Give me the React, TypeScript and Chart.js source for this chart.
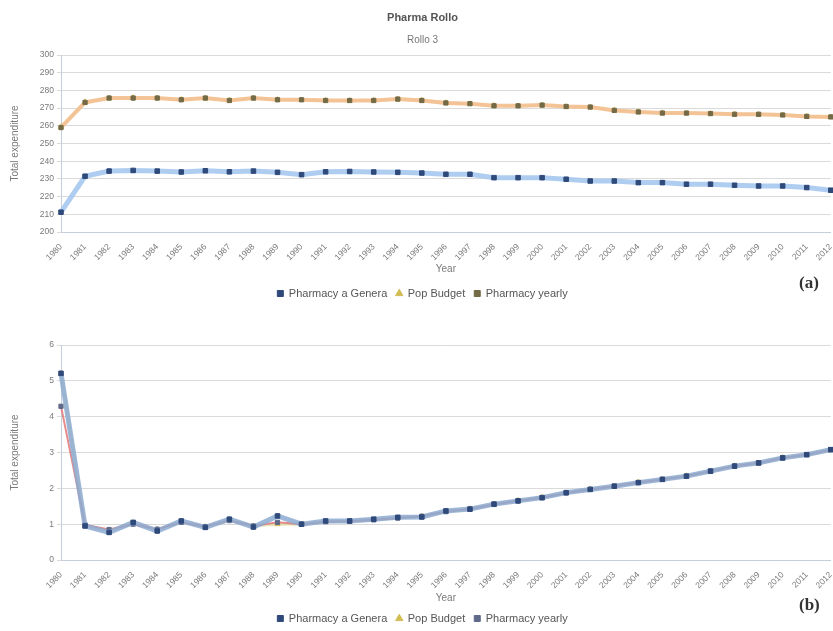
import React, { useEffect, useRef } from "react";
import { Chart, registerables } from "chart.js";

Chart.register(...registerables);

// ---------- data ----------
const years = [
  "1980", "1981", "1982", "1983", "1984", "1985", "1986", "1987", "1988", "1989", "1990",
  "1991", "1992", "1993", "1994", "1995", "1996", "1997", "1998", "1999", "2000",
  "2001", "2002", "2003", "2004", "2005", "2006", "2007", "2008", "2009", "2010",
  "2011", "2012",
];

const seriesNames = ["Pharmacy a Genera", "Pop Budget", "Pharmacy yearly"];

// chart (a)
const generaA = [
  211.2, 231.5, 234.4, 234.8, 234.4, 233.9, 234.6, 234.0, 234.4, 233.7, 232.4,
  234.0, 234.2, 233.9, 233.7, 233.3, 232.6, 232.6, 230.7, 230.7, 230.7,
  229.8, 228.8, 228.8, 227.9, 227.9, 227.0, 227.0, 226.4, 226.0, 226.0,
  225.1, 223.6,
];
const budgetA = [
  259.4, 273.5, 275.5, 275.9, 275.6, 274.9, 275.5, 274.5, 275.6, 274.8, 274.6,
  274.4, 274.2, 274.4, 275.0, 274.4, 273.0, 272.4, 271.4, 271.2, 271.6,
  270.8, 270.5, 268.9, 267.9, 267.3, 267.1, 266.9, 266.6, 266.4, 266.1,
  265.4, 265.0,
];
const yearlyA = [
  259.0, 273.2, 275.7, 275.7, 275.7, 274.7, 275.7, 274.3, 275.7, 274.7, 274.7,
  274.3, 274.3, 274.3, 275.1, 274.3, 272.9, 272.5, 271.3, 271.3, 271.7,
  270.9, 270.6, 268.7, 267.8, 267.2, 267.2, 266.9, 266.5, 266.5, 266.1,
  265.3, 265.0,
];
const yTicksA = { min: 200, max: 300, step: 10 };

// chart (b)
const generaB = [
  5.21, 0.95, 0.77, 1.05, 0.81, 1.09, 0.91, 1.14, 0.92, 1.23, 1.0,
  1.09, 1.09, 1.14, 1.19, 1.2, 1.37, 1.42, 1.56, 1.65, 1.74,
  1.88, 1.97, 2.06, 2.16, 2.25, 2.34, 2.48, 2.62, 2.71, 2.85,
  2.94, 3.08,
];
const budgetB = [
  5.2, 0.97, 0.82, 1.02, 0.85, 1.06, 0.93, 1.1, 0.95, 1.0, 1.0,
  1.07, 1.08, 1.12, 1.17, 1.22, 1.35, 1.43, 1.55, 1.66, 1.75,
  1.87, 1.98, 2.05, 2.17, 2.24, 2.35, 2.47, 2.63, 2.7, 2.86,
  2.93, 3.07,
];
const yearlyB = [
  4.29, 0.98, 0.85, 1.0, 0.86, 1.05, 0.93, 1.1, 0.95, 1.05, 1.0,
  1.07, 1.08, 1.12, 1.17, 1.22, 1.35, 1.42, 1.55, 1.65, 1.74,
  1.87, 1.97, 2.06, 2.16, 2.25, 2.34, 2.48, 2.62, 2.71, 2.85,
  2.94, 3.08,
];
const yTicksB = { min: 0, max: 6, step: 1 };

const titleText = "Pharma Rollo";
const subtitleText = "Rollo 3";
const xTitle = "Year";
const yTitle = "Total expenditure";

// ---------- helpers ----------
const FONT = "'Liberation Sans', Arial, sans-serif";
const TICK = "#7a7a7a";
const CW = 840;

function datasets(genera: number[], budget: number[], yearly: number[], isB: boolean) {
  return [
    {
      label: seriesNames[0],
      data: genera,
      order: 0,
      borderColor: isB ? "rgba(140,170,210,0.85)" : "rgba(165,200,238,0.9)",
      borderWidth: 5,
      pointStyle: "rect" as const,
      pointRadius: 3.2,
      pointBorderWidth: 1,
      pointBackgroundColor: "#2f4a7a",
      pointBorderColor: "#2f4a7a",
      tension: 0,
    },
    {
      label: seriesNames[1],
      data: budget,
      order: 2,
      borderColor: isB ? "rgba(225,215,150,0.6)" : "rgba(240,218,160,0.8)",
      borderWidth: 3,
      pointStyle: "triangle" as const,
      pointRadius: 3,
      pointBorderWidth: 1,
      pointBackgroundColor: "#d2bd55",
      pointBorderColor: "#d2bd55",
      tension: 0,
    },
    {
      label: seriesNames[2],
      data: yearly,
      order: 1,
      borderColor: isB ? "rgba(225,120,120,0.85)" : "rgba(243,192,145,0.9)",
      borderWidth: isB ? 2 : 4,
      pointStyle: "rect" as const,
      pointRadius: 3,
      pointBorderWidth: 1,
      pointBackgroundColor: isB ? "#5f6a8a" : "#746a46",
      pointBorderColor: isB ? "#5f6a8a" : "#746a46",
      tension: 0,
    },
  ];
}

function options(
  ticks: { min: number; max: number; step: number },
  withTitle: boolean,
  padTop: number,
  xHeight: number,
  xTitleBottom: number
): any {
  return {
    responsive: false,
    animation: false,
    devicePixelRatio: 1,
    layout: { padding: { left: 8, right: 3, top: padTop, bottom: 6 } },
    plugins: {
      title: {
        display: withTitle,
        text: titleText,
        color: "#555",
        font: { family: FONT, size: 11, weight: "bold" },
        padding: { top: 11.4, bottom: 5 },
      },
      subtitle: {
        display: withTitle,
        text: subtitleText,
        color: "#777",
        font: { family: FONT, size: 10 },
        padding: { top: 4.4, bottom: 9 },
      },
      legend: {
        position: "bottom",
        labels: {
          color: "#555",
          font: { family: FONT, size: 11 },
          usePointStyle: true,
          boxWidth: 6,
          boxHeight: 6,
          padding: 9,
          sort: (x: any, y: any) => x.datasetIndex - y.datasetIndex,
        },
      },
      tooltip: { enabled: false },
    },
    scales: {
      x: {
        offset: false,
        grid: { display: false },
        border: { color: "#c5cedb" },
        ticks: {
          color: TICK,
          font: { family: FONT, size: 8.5 },
          minRotation: 45,
          maxRotation: 45,
          autoSkip: false,
          padding: 2,
        },
        title: {
          display: true,
          text: xTitle,
          color: TICK,
          font: { family: FONT, size: 10 },
          padding: { top: 0, bottom: xTitleBottom },
        },
        afterFit: (s: any) => {
          s.height = xHeight;
        },
      },
      y: {
        min: ticks.min,
        max: ticks.max,
        grid: { color: "#dadada", tickLength: 4 },
        border: { color: "#c5cedb" },
        ticks: {
          stepSize: ticks.step,
          color: TICK,
          font: { family: FONT, size: 8.5 },
          padding: 3,
        },
        title: {
          display: true,
          text: yTitle,
          color: TICK,
          font: { family: FONT, size: 10 },
          padding: { top: 1, bottom: 0 },
        },
        afterFit: (s: any) => {
          s.width = 53;
        },
      },
    },
  };
}

export default function App() {
  const refA = useRef<HTMLCanvasElement>(null);
  const refB = useRef<HTMLCanvasElement>(null);

  useEffect(() => {
    const a = new Chart(refA.current as HTMLCanvasElement, {
      type: "line",
      data: { labels: years, datasets: datasets(generaA, budgetA, yearlyA, false) as any },
      options: options(yTicksA, true, 0, 47, 3.5),
    });
    const b = new Chart(refB.current as HTMLCanvasElement, {
      type: "line",
      data: { labels: years, datasets: datasets(generaB, budgetB, yearlyB, true) as any },
      options: options(yTicksB, false, 25, 44, 0),
    });
    return () => {
      a.destroy();
      b.destroy();
    };
  }, []);

  const tag: React.CSSProperties = {
    position: "absolute",
    fontFamily: "'Liberation Serif', 'DejaVu Serif', serif",
    fontSize: 17,
    fontWeight: "bold",
    color: "#333",
    lineHeight: "20px",
  };

  return (
    <div
      style={{
        position: "fixed",
        left: 0,
        top: 0,
        width: 833,
        height: 631,
        overflow: "hidden",
        background: "#fff",
      }}
    >
      <canvas
        ref={refA}
        width={CW}
        height={315}
        style={{ position: "absolute", left: 0, top: 0, width: CW, height: 315 }}
      />
      <canvas
        ref={refB}
        width={CW}
        height={320}
        style={{ position: "absolute", left: 0, top: 320, width: CW, height: 320 }}
      />
      <div style={{ ...tag, left: 799, top: 273 }}>(a)</div>
      <div style={{ ...tag, left: 799, top: 595 }}>(b)</div>
    </div>
  );
}
